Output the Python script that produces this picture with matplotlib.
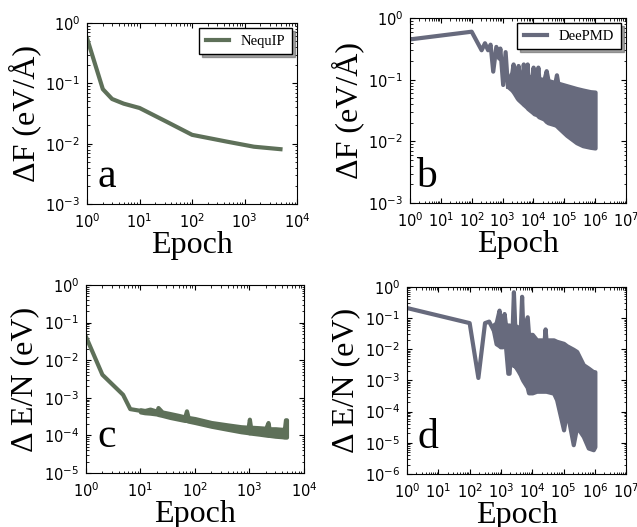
import matplotlib
matplotlib.use("Agg")
import matplotlib.pyplot as plt
from matplotlib.ticker import LogLocator, NullFormatter

# ---- data ----
# (a) NequIP force error
nequip_f_epoch = [1, 2, 3, 5, 10, 33, 100, 460, 1500, 4800]
nequip_f = [0.56, 0.08, 0.055, 0.046, 0.039, 0.023, 0.014, 0.0108, 0.0089, 0.0081]

# (b) DeePMD force error: early curve, then dense oscillation band
deepmd_f_epoch = [1, 100, 210, 270, 340, 410, 500, 630, 780, 850, 1050, 1260, 1500]
deepmd_f = [0.45, 0.60, 0.30, 0.39, 0.30, 0.37, 0.135, 0.34, 0.22, 0.32, 0.082, 0.28, 0.077]
deepmd_f_band_epoch = [1500, 2000, 2200, 2400, 3000, 3200, 3500, 4500, 4700, 5000, 6000, 6300,
                       6600, 9000, 9800, 10500, 13000, 14000, 15000, 22000, 26000, 30000,
                       50000, 56000, 62000, 120000, 250000, 400000, 700000, 1000000]
deepmd_f_hi = [0.10, 0.13, 0.18, 0.13, 0.125, 0.17, 0.12, 0.12, 0.18, 0.12, 0.115, 0.18,
               0.115, 0.11, 0.16, 0.11, 0.105, 0.16, 0.105, 0.10, 0.14, 0.097,
               0.09, 0.12, 0.088, 0.08, 0.072, 0.068, 0.064, 0.063]
deepmd_f_lo = [0.077, 0.068, 0.064, 0.06, 0.05, 0.048, 0.046, 0.041, 0.04, 0.039, 0.036, 0.035,
               0.034, 0.03, 0.029, 0.028, 0.027, 0.026, 0.025, 0.023, 0.021, 0.02,
               0.0185, 0.018, 0.017, 0.0125, 0.0095, 0.0085, 0.008, 0.0078]

# (c) NequIP energy error
nequip_e_epoch = [1, 2, 4.8, 6.5, 10]
nequip_e = [0.042, 0.0041, 0.0012, 5.0e-4, 4.5e-4]
nequip_e_band_epoch = [10, 12, 15, 20, 21, 25, 35, 50, 65, 70, 75, 100, 200, 400, 700, 950,
                       1000, 1050, 1500, 2000, 2200, 2300, 3000, 4000, 4400, 4600, 4800]
nequip_e_hi = [4.8e-4, 4.6e-4, 5.0e-4, 4.4e-4, 5.5e-4, 4.2e-4, 3.8e-4, 3.4e-4, 3.1e-4, 4.5e-4,
               3.0e-4, 2.8e-4, 2.2e-4, 1.9e-4, 1.7e-4, 1.65e-4, 2.7e-4, 1.65e-4, 1.6e-4,
               1.55e-4, 2.2e-4, 1.5e-4, 1.5e-4, 1.45e-4, 1.5e-4, 2.6e-4, 2.6e-4]
nequip_e_lo = [4.2e-4, 4.0e-4, 3.9e-4, 3.7e-4, 3.6e-4, 3.4e-4, 3.0e-4, 2.7e-4, 2.5e-4, 2.5e-4,
               2.4e-4, 2.2e-4, 1.75e-4, 1.45e-4, 1.25e-4, 1.18e-4, 1.15e-4, 1.15e-4, 1.08e-4,
               1.02e-4, 1.0e-4, 1.0e-4, 9.5e-5, 9.2e-5, 9e-5, 9e-5, 9e-5]

# (d) DeePMD energy error
deepmd_e_epoch = [1, 100, 190, 310, 420, 575]
deepmd_e = [0.21, 0.069, 0.0012, 0.069, 0.077, 0.042]
deepmd_e_band_epoch = [575, 700, 870, 950, 1120, 1260, 1400, 1660, 1820, 2000, 2300, 2500,
                       2750, 3550, 4170, 4570, 5000, 6900, 7600, 10000, 13800, 24000, 25700,
                       27500, 48000, 60000, 100000, 126000, 204000, 263000, 427000, 617000,
                       890000, 1000000]
deepmd_e_hi = [0.06, 0.07, 0.18, 0.07, 0.08, 0.14, 0.06, 0.06, 0.06, 0.05, 0.06, 0.7,
               0.06, 0.05, 0.05, 0.5, 0.04, 0.11, 0.03, 0.03, 0.02, 0.02, 0.045,
               0.02, 0.02, 0.018, 0.0155, 0.013, 0.01, 0.0085, 0.0032, 0.0025,
               0.0019, 0.0019]
deepmd_e_lo = [0.04, 0.015, 0.013, 0.012, 0.012, 0.013, 0.012, 1.7e-3, 1.7e-3, 0.008, 0.004, 0.003,
               0.003, 0.002, 0.0015, 0.0012, 0.001, 6e-4, 4e-4, 4e-4, 4.5e-4, 4.5e-4, 4.5e-4,
               4.5e-4, 3.9e-4, 2.4e-4, 2.6e-5, 1.1e-4, 8.7e-6, 3.3e-5, 1.6e-5, 6.8e-6,
               6.0e-6, 7.5e-6]

green = "#5e7059"
slate = "#676a7d"
serif = "Liberation Serif"

plt.rcParams["font.size"] = 10.5
plt.rcParams["xtick.direction"] = "in"
plt.rcParams["ytick.direction"] = "in"
plt.rcParams["xtick.top"] = True
plt.rcParams["ytick.right"] = True
plt.rcParams["xtick.major.size"] = 3.5
plt.rcParams["ytick.major.size"] = 3.5
plt.rcParams["xtick.minor.size"] = 1.8
plt.rcParams["ytick.minor.size"] = 1.8
plt.rcParams["xtick.major.pad"] = 6
plt.rcParams["ytick.major.pad"] = 5


def style(ax, xmax, ymin, ylabel, letter, lx, ly):
    ax.set_xscale("log")
    ax.set_yscale("log")
    ax.set_xlim(1, xmax)
    ax.set_ylim(ymin, 1)
    for axis in (ax.xaxis, ax.yaxis):
        axis.set_major_locator(LogLocator(base=10, numticks=20))
        axis.set_minor_locator(LogLocator(base=10, subs=range(2, 10), numticks=100))
        axis.set_minor_formatter(NullFormatter())
    ax.set_xlabel("Epoch", fontsize=23, family=serif, labelpad=0)
    ax.set_ylabel(ylabel, fontsize=23, family=serif, labelpad=3)
    ax.text(lx, ly, letter, transform=ax.transAxes, fontsize=30, family=serif,
            ha="left", va="baseline")


def legend(ax):
    leg = ax.legend(loc="upper right", prop={"family": serif, "size": 10.5}, shadow=True,
                    fancybox=False, framealpha=1, edgecolor="black", borderaxespad=0.35,
                    handlelength=1.6, borderpad=0.45)
    leg.get_frame().set_linewidth(1.0)


fig = plt.figure(figsize=(6.37, 5.27), dpi=100)

# a
ax = fig.add_axes([0.1366, 0.6129, 0.330, 0.3435])
ax.plot(nequip_f_epoch, nequip_f, color=green, lw=3, label="NequIP")
style(ax, 1e4, 1e-3, "ΔF (eV/Å)", "a", 0.05, 0.094)
legend(ax)

# b
ax = fig.add_axes([0.6436, 0.6148, 0.339, 0.351])
ax.plot(deepmd_f_epoch, deepmd_f, color=slate, lw=3, label="DeePMD")
ax.fill_between(deepmd_f_band_epoch, deepmd_f_lo, deepmd_f_hi, color=slate, lw=3,
                edgecolor=slate)
style(ax, 1e7, 1e-3, "ΔF (eV/Å)", "b", 0.03, 0.086)
legend(ax)

# c
ax = fig.add_axes([0.135, 0.1025, 0.342, 0.3567])
ax.plot(nequip_e_epoch, nequip_e, color=green, lw=3)
ax.fill_between(nequip_e_band_epoch, nequip_e_lo, nequip_e_hi, color=green, lw=3,
                edgecolor=green)
style(ax, 1e4, 1e-5, "Δ E/N (eV)", "c", 0.05, 0.14)

# d
ax = fig.add_axes([0.639, 0.1006, 0.344, 0.355])
ax.plot(deepmd_e_epoch, deepmd_e, color=slate, lw=3)
ax.fill_between(deepmd_e_band_epoch, deepmd_e_lo, deepmd_e_hi, color=slate, lw=3,
                edgecolor=slate)
style(ax, 1e7, 1e-6, "Δ E/N (eV)", "d", 0.05, 0.137)

fig.savefig("out.png", dpi=100, facecolor="white")
